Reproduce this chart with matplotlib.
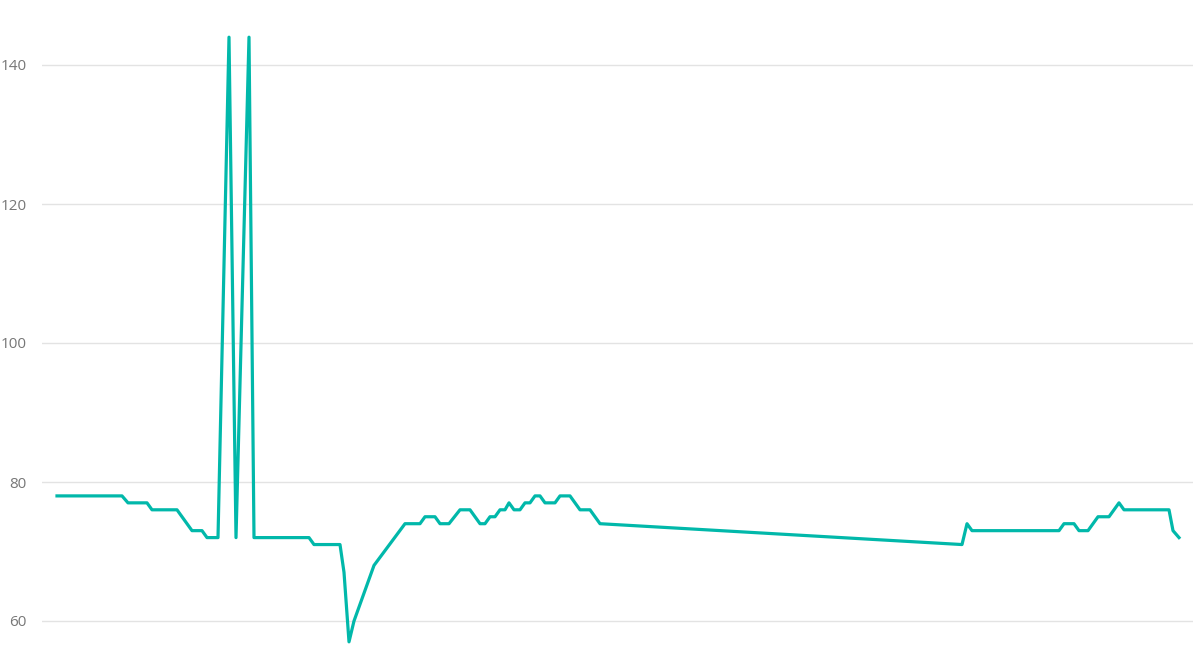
import matplotlib
matplotlib.use("Agg")
import matplotlib.pyplot as plt

# time positions (arbitrary units, no x labels shown) and values
t = [57, 122, 128, 147, 152, 177, 192, 202, 207, 218, 229, 236, 249, 254,
     309, 314, 340, 344, 349, 354, 374, 405, 420, 425, 435, 440, 449, 460,
     470, 480, 485, 490, 495, 500, 505, 509, 514, 520, 525, 530, 535, 540,
     545, 555, 560, 570, 580, 590, 600, 962, 967, 972, 1059, 1064, 1074,
     1079, 1088, 1098, 1109, 1119, 1124, 1169, 1173, 1179]
values = [78, 78, 77, 77, 76, 76, 73, 73, 72, 72, 144, 72, 144, 72,
          72, 71, 71, 67, 57, 60, 68, 74, 74, 75, 75, 74, 74, 76,
          76, 74, 74, 75, 75, 76, 76, 77, 76, 76, 77, 77, 78, 78,
          77, 77, 78, 78, 76, 76, 74, 71, 74, 73, 73, 74, 74,
          73, 73, 75, 75, 77, 76, 76, 73, 72]
yticks = [60, 80, 100, 120, 140]

plt.rcParams['font.family'] = ['Open Sans', 'DejaVu Sans']

fig = plt.figure(figsize=(12, 6.64), dpi=100)
ax = fig.add_axes([42 / 1200, 0, (1193 - 42) / 1200, 1])
ax.plot(t, values, color='#01B8AA', linewidth=2.3, solid_joinstyle='round')
ax.set_xlim(42, 1193)
ax.set_ylim(60 - 43 / 6.95, 140 + 65 / 6.95)
ax.set_yticks(yticks)
ax.set_yticklabels([str(v) for v in yticks])
ax.set_xticks([])
ax.grid(axis='y', color='#e3e3e3', linewidth=1)
ax.set_axisbelow(True)
for s in ax.spines.values():
    s.set_visible(False)
ax.tick_params(axis='y', length=0, pad=11, labelsize=11, labelcolor='#777777')
fig.savefig('out.png', dpi=100)
